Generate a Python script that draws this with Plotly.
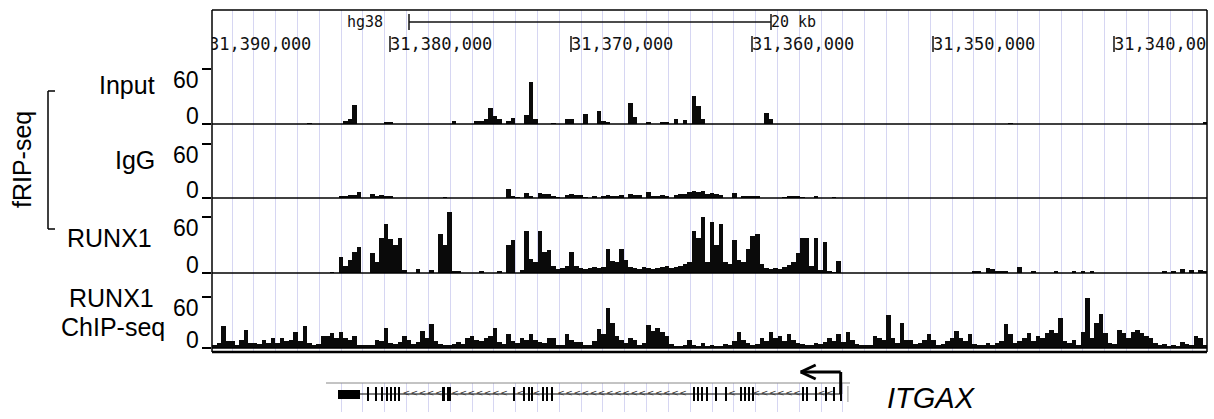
import plotly.graph_objects as go

W, H = 1214, 419

# ---------------- data ----------------
# genomic window in kb (chr coordinate / 1000); view is reversed (minus-strand gene left->right)
VIEW_LEFT_KB = 31389.834
VIEW_RIGHT_KB = 31334.862
BIN_KB = 0.25
GRID_TICK0_KB = 31388.729
GRID_STEP_KB = 1.2055

ruler_ticks_kb = [31390, 31380, 31370, 31360, 31350, 31340]
ruler_labels = ["31,390,000", "31,380,000", "31,370,000", "31,360,000", "31,350,000", "31,340,000"]
scalebar_right_kb = 31358.95
scalebar_len_kb = 20.0
assembly = "hg38"
scalebar_label = "20 kb"

track_names = ["Input", "IgG", "RUNX1", "RUNX1<br>ChIP-seq"]
group_label = "fRIP-seq"
axis_tick_values = [0, 60]

# sparse tracks: bin index -> signal
input_bin_idx = [21, 29, 30, 31, 38, 39, 53, 58, 59, 60, 61, 62, 63, 65, 66, 69, 70, 71, 75, 78, 79,
                 82, 85, 86, 87, 92, 93, 96, 99, 100, 102, 104, 106, 107, 108, 122, 123, 176, 219]
input_values = [1, 3, 6, 21, 2, 2, 3, 3, 3, 6, 17, 9, 6, 3, 7, 10, 46, 5, 1, 6, 6,
                11, 14, 3, 2, 23, 8, 2, 2, 2, 6, 4, 31, 20, 5, 12, 5, 1, 2]

igg_bin_idx = [28, 29, 30, 31, 32, 35, 36, 37, 38, 39, 51, 65, 66, 67, 69, 70, 72, 73, 74, 75, 76,
               78, 79, 80, 81, 82, 84, 86, 87, 88, 89, 90, 92, 93, 94, 96, 97, 98, 99, 100, 102,
               103, 104, 105, 106, 107, 108, 109, 110, 111, 112, 115, 117, 118, 119, 120, 126,
               127, 128, 129, 130, 133, 137]
igg_values = [2, 2, 3, 3, 7, 4, 2, 3, 2, 2, 1, 10, 2, 1, 6, 2, 6, 5, 4, 2, 1,
              3, 4, 3, 3, 1, 2, 2, 3, 2, 2, 3, 4, 3, 3, 7, 2, 2, 3, 2, 3,
              4, 5, 7, 8, 7, 8, 5, 6, 4, 3, 6, 2, 2, 2, 2, 1,
              2, 2, 2, 1, 2, 1]

runx1_frip_values = [
    0, 0, 0, 0, 0, 0, 0, 0, 0, 0, 0, 0, 0, 0, 0, 0, 0, 0, 0, 0,
    0, 0, 0, 0, 0, 0, 1, 0, 17, 8, 14, 22, 28, 0, 0, 21, 12, 38, 53, 36,
    30, 38, 3, 0, 0, 4, 0, 0, 3, 0, 42, 30, 65, 2, 2, 0, 0, 0, 0, 2,
    0, 0, 0, 2, 0, 30, 35, 0, 3, 45, 15, 12, 45, 22, 25, 8, 4, 5, 8, 23,
    7, 5, 4, 5, 6, 5, 6, 26, 13, 12, 26, 14, 6, 5, 4, 6, 5, 4, 5, 6,
    7, 5, 6, 7, 10, 12, 45, 38, 60, 12, 55, 30, 52, 12, 10, 35, 14, 12, 26, 40,
    42, 10, 5, 4, 5, 4, 6, 9, 12, 21, 38, 38, 8, 38, 3, 33, 2, 1, 13, 0,
    0, 0, 0, 0, 0, 0, 0, 0, 0, 0, 0, 0, 0, 0, 0, 0, 0, 0, 0, 0,
    0, 0, 0, 0, 0, 0, 0, 0, 2, 2, 0, 5, 4, 2, 2, 2, 0, 0, 6, 0,
    0, 2, 0, 0, 0, 0, 2, 0, 0, 0, 2, 0, 2, 0, 2, 0, 0, 0, 0, 0,
    0, 0, 0, 0, 0, 0, 0, 0, 0, 0, 2, 0, 2, 0, 4, 0, 3, 0, 3, 2,
]

runx1_chip_values = [
    3, 6, 26, 8, 8, 3, 9, 21, 6, 6, 5, 9, 6, 12, 6, 12, 8, 10, 19, 8,
    26, 6, 4, 5, 14, 14, 18, 12, 19, 12, 10, 14, 4, 3, 3, 4, 9, 8, 24, 6,
    5, 7, 14, 9, 5, 7, 20, 12, 28, 8, 5, 4, 3, 5, 7, 5, 12, 14, 9, 8,
    12, 14, 24, 7, 5, 16, 8, 6, 12, 10, 17, 9, 7, 6, 12, 12, 3, 4, 17, 9,
    7, 7, 4, 3, 8, 22, 17, 47, 30, 14, 9, 6, 12, 9, 4, 6, 27, 20, 24, 19,
    14, 5, 2, 2, 3, 9, 4, 2, 6, 2, 4, 2, 2, 5, 3, 8, 19, 9, 6, 4,
    5, 12, 8, 19, 12, 14, 8, 17, 9, 6, 5, 4, 3, 6, 5, 7, 12, 8, 17, 7,
    19, 9, 5, 4, 3, 3, 14, 12, 10, 39, 12, 6, 30, 10, 9, 5, 6, 9, 17, 9,
    4, 5, 8, 12, 20, 12, 8, 17, 5, 3, 4, 6, 4, 6, 8, 28, 17, 6, 8, 12,
    18, 8, 14, 12, 18, 21, 18, 35, 8, 6, 9, 4, 19, 59, 12, 30, 40, 18, 6, 5,
    21, 18, 12, 19, 21, 18, 14, 12, 6, 3, 5, 2, 3, 2, 7, 5, 4, 14, 12, 4,
]

# ITGAX gene model (kb)
gene_name = "ITGAX"
utr_hi_kb, utr_lo_kb = 31382.873, 31381.657
exon_hi_kb = [31381.271, 31380.829, 31380.497, 31380.221, 31380.000, 31379.779, 31379.558,
              31377.127, 31376.851, 31373.204, 31372.652, 31372.376, 31372.210, 31371.602,
              31371.381, 31371.105, 31363.260, 31363.039, 31362.818, 31362.541, 31362.044,
              31361.492, 31360.663, 31360.442, 31360.221, 31360.000, 31357.238, 31357.017,
              31356.519, 31355.967, 31355.525, 31355.138]
exon_lo_kb = [31381.190, 31380.750, 31380.410, 31380.140, 31379.920, 31379.700, 31379.480,
              31376.960, 31376.630, 31373.120, 31372.570, 31372.290, 31372.130, 31371.520,
              31371.300, 31371.020, 31363.180, 31362.960, 31362.740, 31362.460, 31361.960,
              31361.410, 31360.580, 31360.360, 31360.140, 31359.920, 31357.160, 31356.940,
              31356.440, 31355.890, 31355.440, 31355.060]
tss_kb = 31355.10
neighbour_feature_kb = 31354.70

# ---------------- layout helpers ----------------
def px_x(p):
    return p / W


def px_y(p):
    return 1 - p / H


KB_PER_PX = 10.0 / 181.0
FRAME_L, FRAME_R, FRAME_T, FRAME_B = 212, 1207, 10, 352
GENE_L, GENE_R, GENE_T, GENE_B = 326, 850, 383, 412
GRID_COLOR = "#d6d6f2"
# (top, tick60, baseline) in px for each track
track_geom = [(68, 69, 124), (125, 144, 198), (199, 217, 273), (274, 297, 348)]

fig = go.Figure()

# background grid subplot
fig.add_trace(go.Scatter(x=[VIEW_LEFT_KB], y=[0], mode="markers", marker=dict(opacity=0),
                         hoverinfo="skip", showlegend=False, xaxis="x", yaxis="y"))

# ruler subplot (x2/y2)
fig.add_trace(go.Scatter(x=ruler_ticks_kb, y=[22] * len(ruler_ticks_kb), mode="text",
                         text=ruler_labels, textposition="middle right",
                         textfont=dict(family="DejaVu Sans Mono", size=17, color="#111"),
                         cliponaxis=True, showlegend=False, hoverinfo="skip",
                         xaxis="x2", yaxis="y2"))
tx, ty = [], []
for t in ruler_ticks_kb:
    tx += [t, t, None]
    ty += [16, 32, None]
fig.add_trace(go.Scatter(x=tx, y=ty, mode="lines", line=dict(color="#111", width=1.5),
                         showlegend=False, hoverinfo="skip", xaxis="x2", yaxis="y2"))
sb_l = scalebar_right_kb + scalebar_len_kb
fig.add_trace(go.Scatter(x=[sb_l, sb_l, None, sb_l, scalebar_right_kb, None, scalebar_right_kb, scalebar_right_kb],
                         y=[38, 54, None, 46, 46, None, 38, 54], mode="lines",
                         line=dict(color="#111", width=1.5), showlegend=False, hoverinfo="skip",
                         xaxis="x2", yaxis="y2"))
fig.add_trace(go.Scatter(x=[sb_l + 26 * KB_PER_PX, scalebar_right_kb], y=[45, 45], mode="text",
                         text=[assembly, scalebar_label], textposition=["middle left", "middle right"],
                         textfont=dict(family="DejaVu Sans Mono", size=15, color="#111"),
                         showlegend=False, hoverinfo="skip", xaxis="x2", yaxis="y2"))

# signal tracks
def bin_centers(idx):
    return [VIEW_LEFT_KB - (i + 0.5) * BIN_KB for i in idx]

track_data = [
    (bin_centers(input_bin_idx), input_values),
    (bin_centers(igg_bin_idx), igg_values),
    (bin_centers(range(len(runx1_frip_values))), runx1_frip_values),
    (bin_centers(range(len(runx1_chip_values))), runx1_chip_values),
]
for k, (xs, ys) in enumerate(track_data):
    n = k + 3
    fig.add_trace(go.Bar(x=xs, y=ys, width=BIN_KB, marker=dict(color="#0a0a0a", line=dict(width=0)),
                         showlegend=False, hoverinfo="skip", xaxis=f"x{n}", yaxis=f"y{n}"))

# gene track (x7/y7)
ex_c = [(h + l) / 2 for h, l in zip(exon_hi_kb, exon_lo_kb)]
ex_w = [h - l for h, l in zip(exon_hi_kb, exon_lo_kb)]
fig.add_trace(go.Scatter(x=[utr_hi_kb, exon_lo_kb[-1]], y=[0, 0], mode="lines",
                         line=dict(color="#000", width=1.2), showlegend=False, hoverinfo="skip",
                         xaxis="x7", yaxis="y7"))
# intron direction chevrons
chev_x = []
p = utr_lo_kb - 0.3
blocks = list(zip(exon_hi_kb, exon_lo_kb))
while p > exon_lo_kb[-1] + 0.2:
    if all(not (l - 0.15 < p < h + 0.15) for h, l in blocks):
        chev_x.append(p)
    p -= 0.45
fig.add_trace(go.Scatter(x=chev_x, y=[0.6] * len(chev_x), mode="text", text=["<"] * len(chev_x),
                         textfont=dict(family="DejaVu Sans", size=9, color="#333"),
                         showlegend=False, hoverinfo="skip", xaxis="x7", yaxis="y7"))
fig.add_trace(go.Bar(x=[(utr_hi_kb + utr_lo_kb) / 2], y=[9], base=-4.5, width=utr_hi_kb - utr_lo_kb,
                     marker=dict(color="#000", line=dict(width=0)), showlegend=False, hoverinfo="skip",
                     xaxis="x7", yaxis="y7"))
fig.add_trace(go.Bar(x=ex_c, y=[14] * len(ex_c), base=-7, width=ex_w,
                     marker=dict(color="#000", line=dict(width=0)), showlegend=False, hoverinfo="skip",
                     xaxis="x7", yaxis="y7"))

# ---------------- axes ----------------
lay = dict(
    width=W, height=H, autosize=False, margin=dict(l=0, r=0, t=0, b=0),
    paper_bgcolor="white", plot_bgcolor="rgba(0,0,0,0)", barmode="overlay", bargap=0,
    showlegend=False, font=dict(family="Liberation Sans", color="#000"),
)
xdom = [px_x(FRAME_L), px_x(FRAME_R)]
lay["xaxis"] = dict(domain=xdom, range=[VIEW_LEFT_KB, VIEW_RIGHT_KB], anchor="y",
                    showgrid=True, gridcolor=GRID_COLOR, gridwidth=1, tick0=GRID_TICK0_KB,
                    dtick=GRID_STEP_KB, showticklabels=False, ticks="", zeroline=False, showline=False)
lay["yaxis"] = dict(domain=[px_y(FRAME_B), px_y(FRAME_T)], range=[0, 1], anchor="x",
                    showgrid=False, showticklabels=False, zeroline=False, ticks="")
lay["xaxis2"] = dict(domain=xdom, range=[VIEW_LEFT_KB, VIEW_RIGHT_KB], anchor="y2",
                     showgrid=False, showticklabels=False, zeroline=False, ticks="")
lay["yaxis2"] = dict(domain=[px_y(68), px_y(FRAME_T)], range=[0, 58], anchor="x2",
                     showgrid=False, showticklabels=False, zeroline=False, ticks="")
for k, (top, t60, base) in enumerate(track_geom):
    n = k + 3
    ymax = 60.0 * (base - top) / (base - t60)
    lay[f"xaxis{n}"] = dict(domain=xdom, range=[VIEW_LEFT_KB, VIEW_RIGHT_KB], anchor=f"y{n}",
                            showgrid=False, showticklabels=False, zeroline=False, ticks="")
    lay[f"yaxis{n}"] = dict(domain=[px_y(base), px_y(top)], range=[0, ymax], anchor=f"x{n}",
                            showgrid=False, zeroline=False, showticklabels=False,
                            tickvals=axis_tick_values, ticks="outside", ticklen=9, tickwidth=1.5,
                            tickcolor="#000")
lay["xaxis7"] = dict(domain=[px_x(GENE_L), px_x(GENE_R)],
                     range=[VIEW_LEFT_KB - (GENE_L - FRAME_L) * KB_PER_PX,
                            VIEW_LEFT_KB - (GENE_R - FRAME_L) * KB_PER_PX],
                     anchor="y7", showgrid=True, gridcolor=GRID_COLOR, gridwidth=1,
                     tick0=GRID_TICK0_KB, dtick=GRID_STEP_KB, showticklabels=False, ticks="",
                     zeroline=False)
lay["yaxis7"] = dict(domain=[px_y(GENE_B), px_y(GENE_T)], range=[-18, 11], anchor="x7",
                     showgrid=False, showticklabels=False, zeroline=False, ticks="")

# ---------------- shapes ----------------
shapes = []
def pline(x0, y0, x1, y1, w=1.5, c="#000"):
    shapes.append(dict(type="line", xref="paper", yref="paper", x0=px_x(x0), y0=px_y(y0),
                       x1=px_x(x1), y1=px_y(y1), line=dict(color=c, width=w)))

pline(FRAME_L, FRAME_T, FRAME_R, FRAME_T)
pline(FRAME_L, FRAME_T, FRAME_L, FRAME_B)
pline(FRAME_R, FRAME_T, FRAME_R, FRAME_B)
pline(FRAME_L, FRAME_B, FRAME_R, FRAME_B, w=2.5)
for top, t60, base in track_geom:
    pline(FRAME_L, base, FRAME_R, base)
# gene track top border
pline(GENE_L, GENE_T, GENE_R, GENE_T, w=1, c="#888")
# bracket for fRIP-seq
pline(48, 91, 48, 229, w=1.5)
pline(48, 91, 55, 91, w=1.5)
pline(48, 229, 55, 229, w=1.5)

# TSS arrow in gene coordinates
arrow_len = 40 * KB_PER_PX
head = 15 * KB_PER_PX
for (xa, ya, xb, yb) in [(tss_kb, 394, tss_kb, 372), (tss_kb, 372, tss_kb + arrow_len, 372),
                         (tss_kb + arrow_len, 372, tss_kb + arrow_len - head, 365),
                         (tss_kb + arrow_len, 372, tss_kb + arrow_len - head, 379)]:
    shapes.append(dict(type="line", xref="x7", yref="paper", x0=xa, y0=px_y(ya), x1=xb, y1=px_y(yb),
                       line=dict(color="#000", width=3)))
shapes.append(dict(type="line", xref="x7", yref="paper", x0=neighbour_feature_kb, x1=neighbour_feature_kb,
                   y0=px_y(386), y1=px_y(402), line=dict(color="#999", width=1)))
lay["shapes"] = shapes

# ---------------- annotations ----------------
ann = []
def text(s, x, y, size, xanchor="center", angle=0, italic=False):
    ann.append(dict(text=s, x=px_x(x), y=px_y(y), xref="paper", yref="paper", showarrow=False,
                    xanchor=xanchor, yanchor="middle", textangle=angle,
                    font=dict(family="Liberation Sans", size=size, color="#000",
                              style="italic" if italic else "normal")))

label_pos = [(157, 85), (157, 160), (154, 238)]
for name, (x, y) in zip(track_names[:3], label_pos):
    text(name, x, y, 25, xanchor="right")
chip_lines = track_names[3].split("<br>")
text(chip_lines[0], 111, 298, 25)
text(chip_lines[1], 113, 327, 25)
for top, t60, base in track_geom:
    text(str(axis_tick_values[1]), 201, t60 + 11, 23, xanchor="right")
    text(str(axis_tick_values[0]), 201, base - 8, 23, xanchor="right")
text(group_label, 22, 160, 25, angle=-90)
text(gene_name, 931, 398, 29, italic=True)
lay["annotations"] = ann

fig.update_layout(**lay)
fig.write_html("out.html")
